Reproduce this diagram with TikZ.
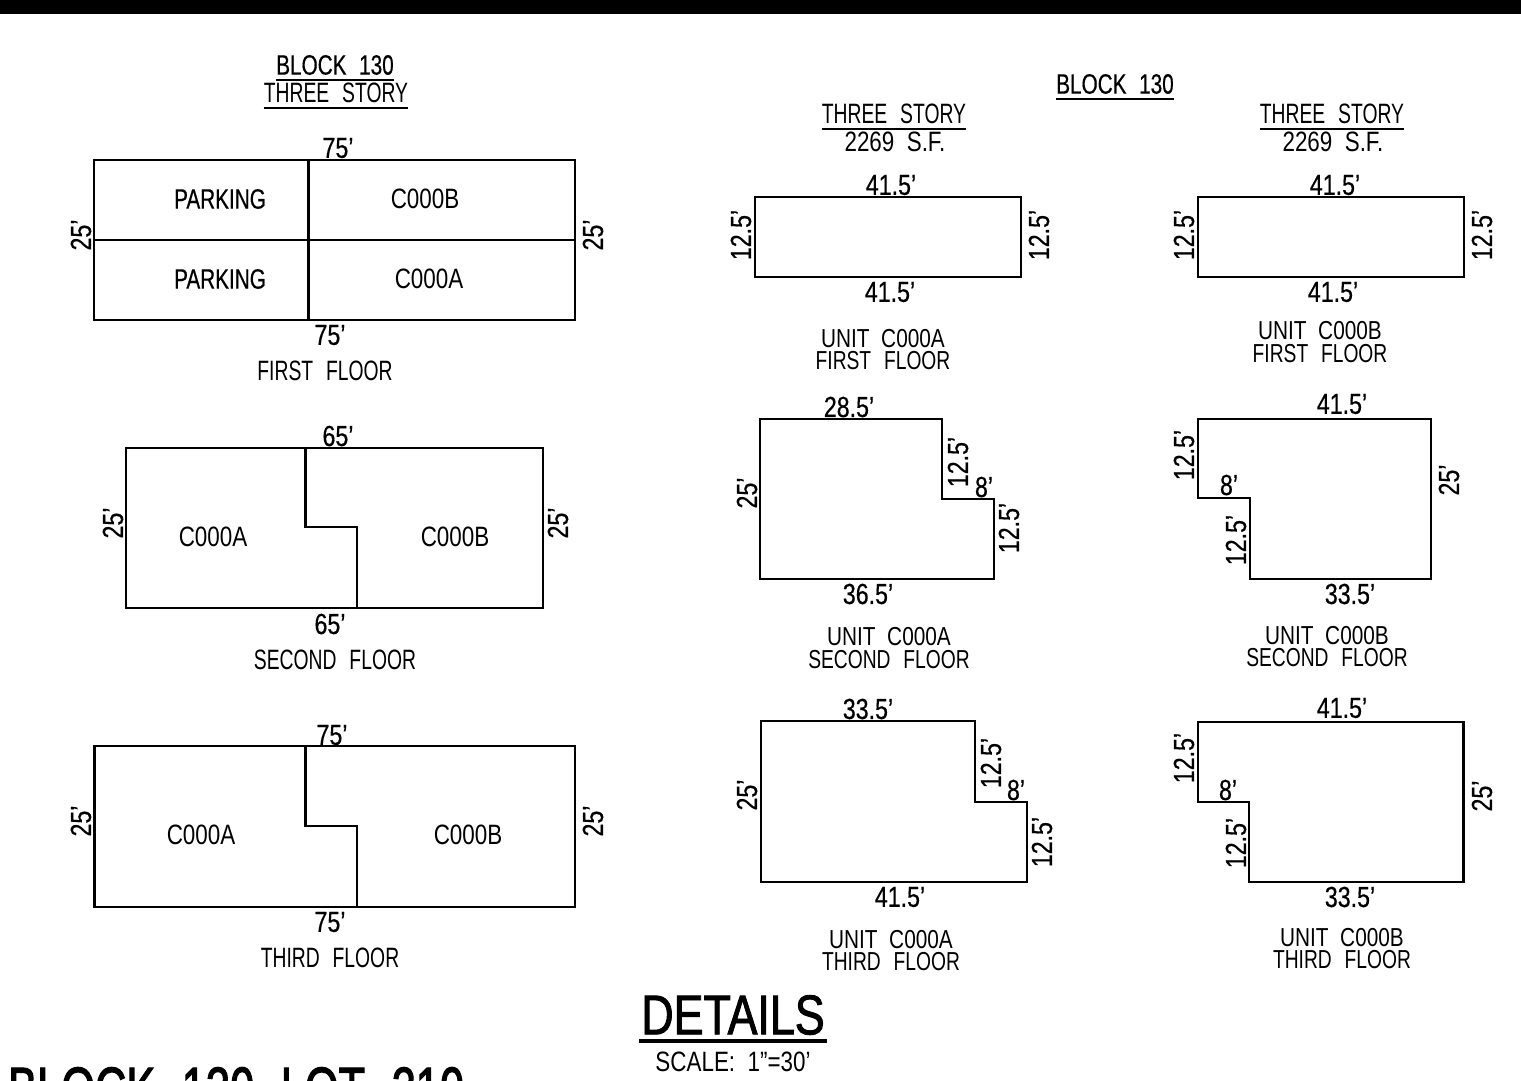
\documentclass[tikz,border=0pt]{standalone}
\usepackage{fontspec}
\setmainfont[FakeStretch=0.8,WordSpace=2]{Liberation Sans}
\newfontfamily\dimfont[Ligatures=TeX,FakeStretch=0.8,FakeBold=0.5]{Liberation Sans}
\newfontfamily\narrowfont[FakeStretch=0.69,WordSpace=2.4]{Liberation Sans}
\newfontfamily\unarrowfont[FakeStretch=0.74,WordSpace=2.4]{Liberation Sans}
\newfontfamily\heavyfont[FakeStretch=0.74,WordSpace=2.2,FakeBold=0.5]{Liberation Sans}
\newfontfamily\detailfont[FakeStretch=0.8,FakeBold=1.6]{Liberation Sans}
\newfontfamily\lotfont[FakeStretch=0.7,WordSpace=2.2,FakeBold=1.8]{Liberation Sans}
\usetikzlibrary{calc, positioning}

\begin{document}
\begin{tikzpicture}[x=1pt, y=-1pt,
  every node/.style={inner sep=0},
  lbl/.style={font=\fontsize{28}{28}\selectfont},
  unit/.style={font=\fontsize{26}{26}\selectfont},
  floor/.style={font=\fontsize{28}{28}\selectfont\narrowfont},
  ufloor/.style={font=\fontsize{26}{26}\selectfont\unarrowfont},
  head/.style={font=\fontsize{28}{28}\selectfont\heavyfont},
  dim/.style={font=\fontsize{29}{29}\selectfont\dimfont},
  rdim/.style={dim, rotate=90},
  wall/.style={line width=2.4pt, line join=miter},
  uline/.style={line width=2pt}
 ]
 \useasboundingbox (0,0) rectangle (1521,1080);
 \fill (0,0) rectangle (1521,14);

 % left column
 \node [head] (blockL) at (335,65) {BLOCK 130};
 \node [floor] (storyL) at (336,93) {THREE STORY};
 \draw [uline] ([yshift=-5]blockL.south west) -- ([yshift=-5]blockL.south east);
 \draw [uline] ([yshift=-5]storyL.south west) -- ([yshift=-5]storyL.south east);

 \draw [wall] (94,160) rectangle (575,320);
 \draw [wall] (94,240) -- (575,240);
 \draw [wall] (308.5,160) -- (308.5,320);
 \node [dim] (firstT) at (338,148) {75'};
 \node [dim] (firstB) at (330,335) {75'};
 \node [rdim] (firstL) at (81,235) {25'};
 \node [rdim] (firstR) at (593,235) {25'};
 \node [head] (parkA) at (220,199) {PARKING};
 \node [head] (parkB) at (220,279) {PARKING};
 \node [lbl] (firstUB) at (425,199) {C000B};
 \node [lbl] (firstUA) at (429,279) {C000A};
 \node [floor] (firstN) at (325,371) {FIRST FLOOR};

 \draw [wall] (126,448) rectangle (543,608);
 \draw [wall] (305.5,448) -- (305.5,527) -- (357,527) -- (357,608);
 \node [dim] (secT) at (338,436) {65'};
 \node [dim] (secB) at (330,624) {65'};
 \node [rdim] (secL) at (113,523) {25'};
 \node [rdim] (secR) at (558,523) {25'};
 \node [lbl] (secUA) at (213,537) {C000A};
 \node [lbl] (secUB) at (455,537) {C000B};
 \node [floor] (secN) at (335,660) {SECOND FLOOR};

 \draw [wall] (94.5,746) rectangle (575,907);
 \draw [wall] (305.5,746) -- (305.5,826) -- (357,826) -- (357,907);
 \node [dim] (thiT) at (332,735) {75'};
 \node [dim] (thiB) at (330,922) {75'};
 \node [rdim] (thiL) at (81,821) {25'};
 \node [rdim] (thiR) at (593,821) {25'};
 \node [lbl] (thiUA) at (201,835) {C000A};
 \node [lbl] (thiUB) at (468,835) {C000B};
 \node [floor] (thiN) at (330,958) {THIRD FLOOR};

 % headings on the right
 \node [head] (blockR) at (1115,84) {BLOCK 130};
 \node [floor] (storyA) at (894,114) {THREE STORY};
 \node [floor] (storyB) at (1332,114) {THREE STORY};
 \node [lbl] (areaA) at (895,142) {2269 S.F.};
 \node [lbl] (areaB) at (1333,142) {2269 S.F.};
 \draw [uline] ([yshift=-5]blockR.south west) -- ([yshift=-5]blockR.south east);
 \draw [uline] ([yshift=-5]storyA.south west) -- ([yshift=-5]storyA.south east);
 \draw [uline] ([yshift=-5]storyB.south west) -- ([yshift=-5]storyB.south east);

 % unit A
 \draw [wall] (755,197) rectangle (1021,277);
 \node [dim] (aaT) at (891,185) {41.5'};
 \node [dim] (aaB) at (890,292) {41.5'};
 \node [rdim] (aaL) at (741,235) {12.5'};
 \node [rdim] (aaR) at (1039,235) {12.5'};
 \node [unit] (aaU) at (883,339) {UNIT C000A};
 \node [ufloor] (aaN) at (883,361) {FIRST FLOOR};

 \draw [wall] (760,419) -- (942,419) -- (942,499) -- (994,499) -- (994,579) -- (760,579) -- cycle;
 \node [dim] (abT) at (849,407) {28.5'};
 \node [dim] (abB) at (868,594) {36.5'};
 \node [rdim] (abL) at (747,493) {25'};
 \node [rdim] (abS) at (958,462) {12.5'};
 \node [dim] (abM) at (984,487) {8'};
 \node [rdim] (abR) at (1009,528) {12.5'};
 \node [unit] (abU) at (889,637) {UNIT C000A};
 \node [ufloor] (abN) at (889,660) {SECOND FLOOR};

 \draw [wall] (761,721) -- (975,721) -- (975,802) -- (1027,802) -- (1027,882) -- (761,882) -- cycle;
 \node [dim] (acT) at (868,709) {33.5'};
 \node [dim] (acB) at (900,897) {41.5'};
 \node [rdim] (acL) at (747,795) {25'};
 \node [rdim] (acS) at (991,763) {12.5'};
 \node [dim] (acM) at (1016,790) {8'};
 \node [rdim] (acR) at (1042,842) {12.5'};
 \node [unit] (acU) at (891,940) {UNIT C000A};
 \node [ufloor] (acN) at (891,962) {THIRD FLOOR};

 % unit B
 \draw [wall] (1198,197) rectangle (1464,277);
 \node [dim] (baT) at (1335,185) {41.5'};
 \node [dim] (baB) at (1333,292) {41.5'};
 \node [rdim] (baL) at (1184,235) {12.5'};
 \node [rdim] (baR) at (1482,235) {12.5'};
 \node [unit] (baU) at (1320,331) {UNIT C000B};
 \node [ufloor] (baN) at (1320,354) {FIRST FLOOR};

 \draw [wall] (1198,419) -- (1431,419) -- (1431,579) -- (1250,579) -- (1250,498) -- (1198,498) -- cycle;
 \node [dim] (bbT) at (1342,404) {41.5'};
 \node [dim] (bbB) at (1350,594) {33.5'};
 \node [rdim] (bbL) at (1184,455) {12.5'};
 \node [dim] (bbM) at (1229,485) {8'};
 \node [rdim] (bbS) at (1236,540) {12.5'};
 \node [rdim] (bbR) at (1449,480) {25'};
 \node [unit] (bbU) at (1327,636) {UNIT C000B};
 \node [ufloor] (bbN) at (1327,658) {SECOND FLOOR};

 \draw [wall] (1198,722) -- (1463.5,722) -- (1463.5,882) -- (1249,882) -- (1249,802) -- (1198,802) -- cycle;
 \node [dim] (bcT) at (1342,708) {41.5'};
 \node [dim] (bcB) at (1350,897) {33.5'};
 \node [rdim] (bcL) at (1184,758) {12.5'};
 \node [dim] (bcM) at (1228,790) {8'};
 \node [rdim] (bcS) at (1236,843) {12.5'};
 \node [rdim] (bcR) at (1482,796) {25'};
 \node [unit] (bcU) at (1342,938) {UNIT C000B};
 \node [ufloor] (bcN) at (1342,960) {THIRD FLOOR};

 % title block
 \node [font=\fontsize{56}{56}\selectfont\detailfont] (details) at (733,1015) {DETAILS};
 \draw [line width=3.5pt] (639,1041) -- (827,1041);
 \node [lbl] (scale) at (733,1062) {SCALE: 1"=30'};
 \node [font=\fontsize{62}{62}\selectfont\lotfont, anchor=north west] (lot) at (8,1067) {BLOCK 130 LOT 210};
\end{tikzpicture}
\end{document}
